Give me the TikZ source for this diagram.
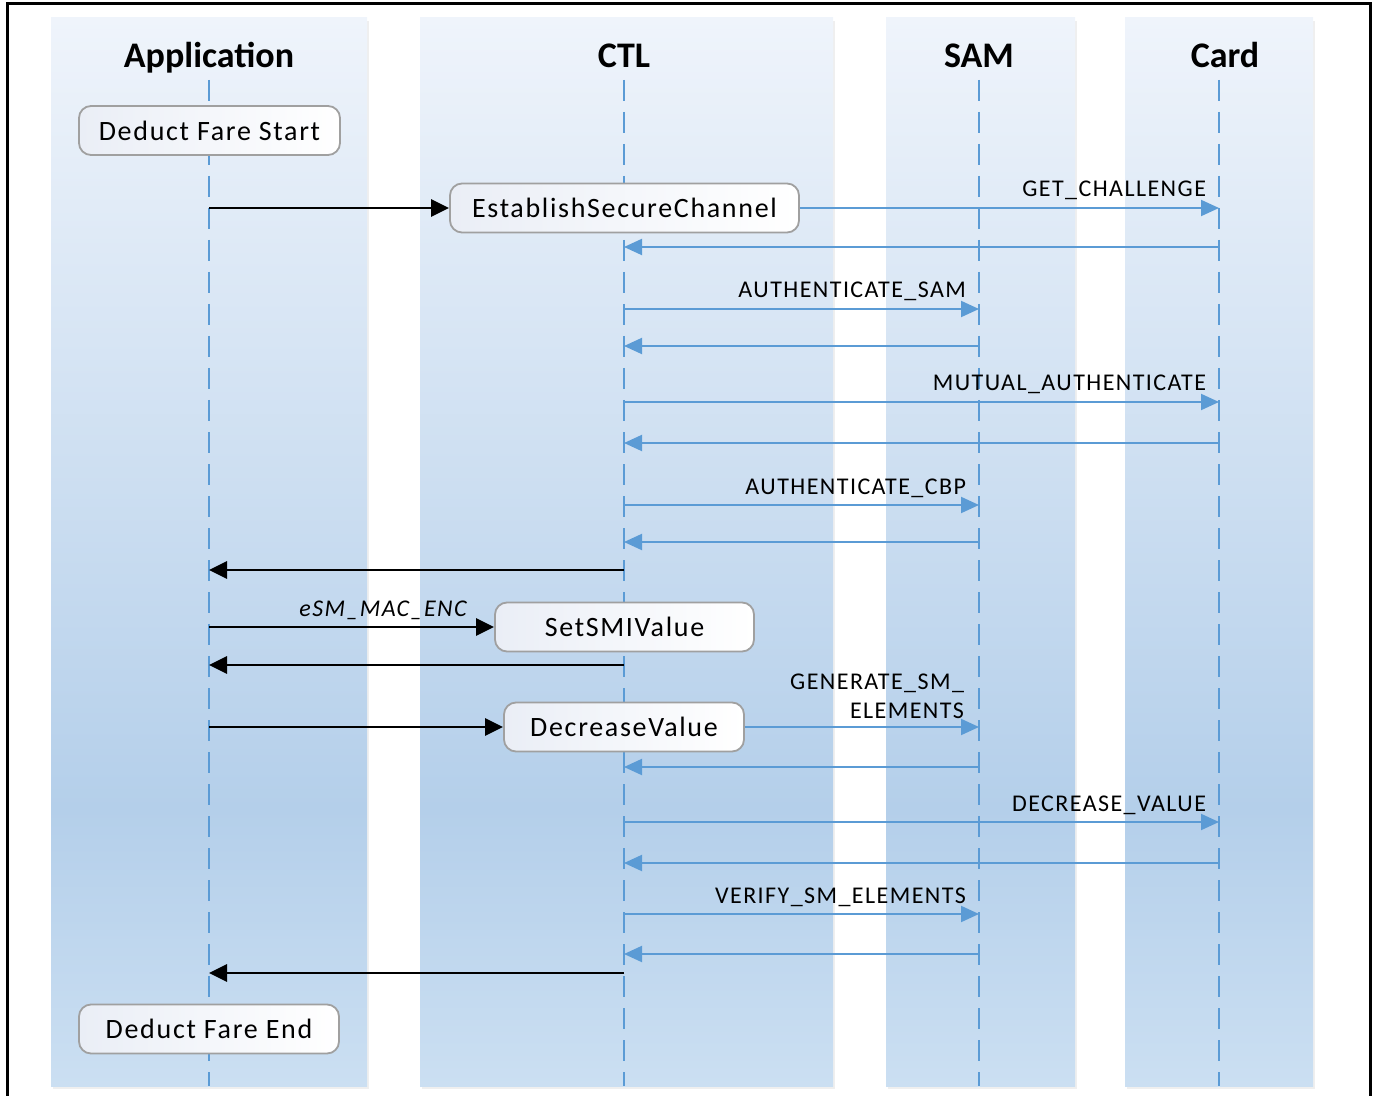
\documentclass[tikz,border=0pt]{standalone}
\usepackage{fontspec}
\setmainfont{Carlito}
\newfontfamily\boxfont[LetterSpace=6]{Carlito}
\newfontfamily\msgfont[LetterSpace=6]{Carlito}
\usetikzlibrary{arrows.meta,shadows,positioning}

\definecolor{lifeblue}{RGB}{91,155,213}
\definecolor{boxgray}{RGB}{160,160,160}
\definecolor{boxfill}{RGB}{234,238,246}
\definecolor{lanetop}{RGB}{239,244,251}
\definecolor{lanemid}{RGB}{180,207,234}
\definecolor{lanebot}{RGB}{203,223,242}

% darkest a quarter of the way up from the bottom
\pgfdeclareverticalshading{lanefill}{100bp}{color(0bp)=(lanebot); color(25bp)=(lanebot); color(38bp)=(lanemid); color(75bp)=(lanetop); color(100bp)=(lanetop)}

\tikzset{
    lane/.style={shading=lanefill, general shadow={fill=black!25, opacity=0.25, shadow xshift=1pt, shadow yshift=-1.5pt}},
    lifeline/.style={draw=lifeblue, line width=1.3pt, dash pattern=on 10.5pt off 5.5pt},
    actor/.style={anchor=base, font=\bfseries\fontsize{18}{20}\selectfont},
    stepbox/.style={draw=boxgray, line width=0.9pt, rounded corners=6pt, left color=boxfill, right color=white, minimum height=24.5pt, inner sep=0pt, font=\boxfont\fontsize{14}{16}\selectfont},
    call/.style={line width=1.4pt, -{Triangle[length=9pt,width=8.5pt]}},
    msg/.style={draw=lifeblue, line width=1pt, -{Triangle[length=9pt,width=8pt,fill=lifeblue]}},
    msglabel/.style={anchor=base east, inner sep=0pt, font=\msgfont\fontsize{12}{14.5}\selectfont},
    endlabel/.style={msglabel, xshift=-6pt, yshift=5.5pt}
}

\begin{document}
\begin{tikzpicture}[x=0.5pt,y=-0.5pt]
    \useasboundingbox (0,0) rectangle (1375,1096);

    % Draw the swim lanes
    \shade[lane] (51,18) rectangle (367,1086);
    \shade[lane] (420,18) rectangle (833,1086);
    \shade[lane] (886,18) rectangle (1075,1086);
    \shade[lane] (1125,18) rectangle (1313,1086);

    % Outer frame (its bottom edge runs off the page)
    \draw[line width=1.5pt] (7,1110) -- (7,4) -- (1370,4) -- (1370,1110);

    % Lane headings
    \node[actor] (app) at (209,68) {Application};
    \node[actor] (ctl) at (624,68) {CTL};
    \node[actor] (sam) at (979,68) {SAM};
    \node[actor] (card) at (1225,68) {Card};

    % Lifelines
    \coordinate (appL) at (209,80);
    \coordinate (ctlL) at (624,80);
    \coordinate (samL) at (979,80);
    \coordinate (cardL) at (1219,80);
    \coordinate (bottom) at (0,1086);
    \draw[lifeline] (appL) -- (appL |- bottom);
    \draw[lifeline] (ctlL) -- (ctlL |- bottom);
    \draw[lifeline] (samL) -- (samL |- bottom);
    \draw[lifeline] (cardL) -- (cardL |- bottom);

    % Steps on the lifelines
    \node[stepbox, minimum width=130.5pt] (start) at (209.5,130.5) {Deduct Fare Start};
    \node[stepbox, minimum width=174.5pt] (esc) at (624.5,208) {EstablishSecureChannel};
    \node[stepbox, minimum width=129.5pt] (smi) at (624.5,627) {SetSMIValue};
    \node[stepbox, minimum width=120pt] (dec) at (624,727) {DecreaseValue};
    \node[stepbox, minimum width=130pt] (finish) at (209,1029) {Deduct Fare End};

    % Message rows
    \coordinate (r3) at (0,247);
    \coordinate (r4) at (0,309);
    \coordinate (r5) at (0,346);
    \coordinate (r6) at (0,402);
    \coordinate (r7) at (0,443);
    \coordinate (r8) at (0,505);
    \coordinate (r9) at (0,542);
    \coordinate (r10) at (0,570);
    \coordinate (r12) at (0,665);
    \coordinate (r15) at (0,767);
    \coordinate (r16) at (0,822);
    \coordinate (r17) at (0,863);
    \coordinate (r18) at (0,914);
    \coordinate (r19) at (0,954);
    \coordinate (r20) at (0,973);

    % Secure channel
    \draw[call] (appL |- esc) -- (esc.west);
    \draw[msg] (esc.east) -- (cardL |- esc) node[endlabel] {GET\_CHALLENGE};
    \draw[msg] (cardL |- r3) -- (ctlL |- r3);
    \draw[msg] (ctlL |- r4) -- (samL |- r4) node[endlabel] {AUTHENTICATE\_SAM};
    \draw[msg] (samL |- r5) -- (ctlL |- r5);
    \draw[msg] (ctlL |- r6) -- (cardL |- r6) node[endlabel] {MUTUAL\_AUTHENTICATE};
    \draw[msg] (cardL |- r7) -- (ctlL |- r7);
    \draw[msg] (ctlL |- r8) -- (samL |- r8) node[endlabel] {AUTHENTICATE\_CBP};
    \draw[msg] (samL |- r9) -- (ctlL |- r9);
    \draw[call] (ctlL |- r10) -- (appL |- r10);

    % Secure messaging mode
    \draw[call] (appL |- smi) -- (smi.west) node[msglabel, xshift=-13pt, yshift=5.5pt] {\itshape eSM\_MAC\_ENC};
    \draw[call] (ctlL |- r12) -- (appL |- r12);

    % Decrease value
    \draw[call] (appL |- dec) -- (dec.west);
    \draw[msg] (dec.east) -- (samL |- dec) node[msglabel, align=right, anchor=south east, xshift=-7pt, yshift=3.5pt] {GENERATE\_SM\_\\ELEMENTS};
    \draw[msg] (samL |- r15) -- (ctlL |- r15);
    \draw[msg] (ctlL |- r16) -- (cardL |- r16) node[endlabel] {DECREASE\_VALUE};
    \draw[msg] (cardL |- r17) -- (ctlL |- r17);
    \draw[msg] (ctlL |- r18) -- (samL |- r18) node[endlabel] {VERIFY\_SM\_ELEMENTS};
    \draw[msg] (samL |- r19) -- (ctlL |- r19);
    \draw[call] (ctlL |- r20) -- (appL |- r20);
\end{tikzpicture}
\end{document}
